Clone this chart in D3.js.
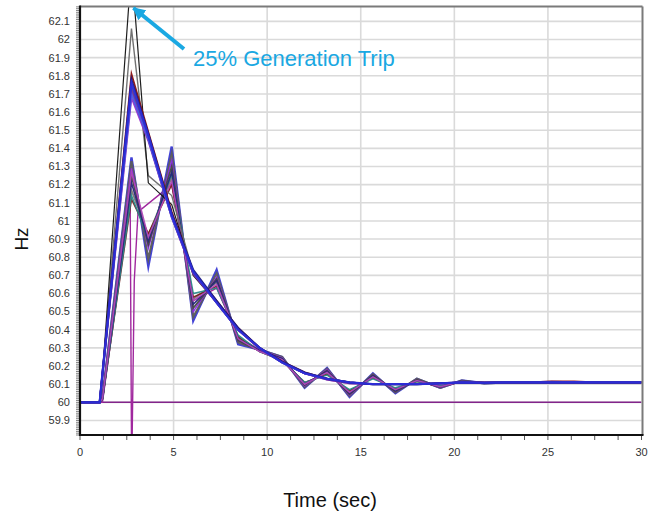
<!DOCTYPE html>
<html>
<head>
<meta charset="utf-8">
<script src="https://cdn.jsdelivr.net/npm/d3@7"></script>
<style>
  html, body { margin: 0; padding: 0; background: #fff; }
  svg { display: block; font-family: "Liberation Sans", Arial, sans-serif; }
</style>
</head>
<body>
<svg id="chart" width="657" height="516"></svg>
<script>
// ---- data ----
const times = [0, 1.05, 1.2, 2.75, 3.65, 4.9, 6.05, 7.3, 8.45, 9.6, 10.8, 12.0, 13.2, 14.4, 15.65, 16.85, 18.0, 19.25, 20.4, 21.6, 22.8, 24.0, 25.2, 26.4, 27.6, 28.8, 30];

const flat60    = [60,60,60,60,60,60,60,60,60,60,60,60,60,60,60,60,60,60,60,60,60,60,60,60,60,60,60];

const lowGray1  = [60,60,60.02,61.33,60.79,61.37,60.47,60.71,60.33,60.29,60.25,60.085,60.185,60.035,60.155,60.055,60.13,60.08,60.12,60.105,60.11,60.11,60.11,60.11,60.11,60.11,60.11];
const lowDark   = [60,60,60.02,61.25,60.87,61.30,60.52,60.68,60.34,60.285,60.24,60.095,60.175,60.045,60.15,60.06,60.125,60.084,60.118,60.106,60.11,60.11,60.11,60.11,60.11,60.11,60.11];
const lowGray2  = [60,60,60.02,61.17,60.92,61.24,60.57,60.66,60.36,60.28,60.235,60.105,60.16,60.06,60.14,60.07,60.118,60.087,60.115,60.107,60.11,60.11,60.11,60.11,60.11,60.11,60.11];
const lowRed    = [60,60,60.02,61.12,60.93,61.20,60.58,60.64,60.36,60.28,60.23,60.11,60.155,60.065,60.135,60.075,60.115,60.088,60.114,60.107,60.11,60.11,60.11,60.11,60.11,60.11,60.11];
const lowTeal   = [60,60,60.02,61.14,60.90,61.26,60.60,60.63,60.37,60.28,60.23,60.11,60.15,60.07,60.13,60.08,60.115,60.09,60.113,60.107,60.11,60.11,60.11,60.11,60.11,60.11,60.11];
const lowNavy   = [60,60,60.02,61.21,60.89,61.27,60.54,60.67,60.35,60.285,60.24,60.10,60.17,60.05,60.145,60.065,60.12,60.085,60.116,60.107,60.11,60.11,60.11,60.11,60.11,60.11,60.11];
const lowMagenta= [60,60,60.02,61.27,60.91,61.22,60.56,60.65,60.35,60.28,60.235,60.10,60.165,60.055,60.14,60.07,60.12,60.086,60.115,60.107,60.11,60.11,60.11,60.11,60.11,60.11,60.11];
const lowViolet = [60,60,60.02,61.29,60.85,61.33,60.50,60.69,60.34,60.29,60.245,60.09,60.18,60.04,60.15,60.06,60.125,60.082,60.118,60.106,60.11,60.11,60.11,60.11,60.11,60.11,60.11];
const lowBlue   = [60,60,60.03,61.35,60.75,61.41,60.45,60.73,60.32,60.29,60.25,60.08,60.19,60.03,60.16,60.05,60.13,60.08,60.12,60.105,60.11,60.11,60.112,60.11,60.11,60.11,60.11];

const spikeGray = [60,60,60.15,62.06,61.25,61.14,60.71,60.55,60.40,60.30,60.22,60.16,60.13,60.11,60.10,60.10,60.10,60.105,60.11,60.108,60.11,60.11,60.11,60.11,60.11,60.11,60.11];
const spikeBlack= [60,60,60.15,62.40,61.21,61.09,60.70,60.55,60.40,60.30,60.22,60.16,60.13,60.11,60.10,60.10,60.10,60.105,60.11,60.108,60.11,60.11,60.11,60.11,60.115,60.112,60.11];

const hiGray    = [60,60,60.15,61.74,61.46,61.03,60.72,60.55,60.40,60.30,60.22,60.16,60.13,60.11,60.10,60.10,60.10,60.105,60.11,60.108,60.11,60.11,60.11,60.11,60.11,60.11,60.11];
const hiRed     = [60,60,60.16,61.81,61.49,61.05,60.72,60.56,60.41,60.30,60.225,60.165,60.13,60.11,60.10,60.10,60.10,60.105,60.11,60.11,60.11,60.11,60.115,60.115,60.11,60.11,60.11];
const hiViolet  = [60,60,60.15,61.68,61.44,61.02,60.71,60.55,60.40,60.295,60.22,60.16,60.125,60.105,60.10,60.10,60.10,60.105,60.11,60.108,60.11,60.11,60.11,60.11,60.11,60.11,60.11];
const hiPurple  = [60,60,60.15,61.72,61.45,61.02,60.71,60.55,60.40,60.295,60.22,60.16,60.125,60.105,60.10,60.10,60.10,60.105,60.11,60.108,60.11,60.11,60.11,60.11,60.11,60.11,60.11];
const hiBlue2   = [60,60,60.16,61.70,61.45,61.02,60.72,60.55,60.40,60.30,60.22,60.16,60.13,60.11,60.10,60.10,60.10,60.105,60.11,60.108,60.11,60.11,60.11,60.11,60.11,60.11,60.11];
const hiNavy    = [60,60,60.16,61.78,61.48,61.04,60.73,60.56,60.41,60.30,60.225,60.165,60.13,60.11,60.10,60.10,60.10,60.105,60.11,60.108,60.11,60.11,60.11,60.11,60.11,60.11,60.11];
const hiBlue    = [60,60,60.16,61.76,61.47,61.03,60.72,60.55,60.40,60.30,60.22,60.16,60.13,60.11,60.10,60.10,60.10,60.105,60.11,60.108,60.11,60.11,60.11,60.112,60.11,60.11,60.11];

// the series with the momentary dip below 60
const dipTimes  = [0, 1.2, 2.68, 2.76, 2.9, 3.1, 4.9, 6.05, 7.3, 8.45, 9.6, 10.8, 12, 13.2, 14.4, 15.65, 16.85, 18, 19.25, 20.4, 21.6, 30];
const dipValues = [60, 60, 61.12, 59.6, 60.67, 61.05, 61.2, 60.56, 60.63, 60.36, 60.29, 60.23, 60.1, 60.17, 60.06, 60.14, 60.07, 60.12, 60.09, 60.115, 60.108, 60.11];

const xTicks = [0, 5, 10, 15, 20, 25, 30];
const yTicks = [59.9,60,60.1,60.2,60.3,60.4,60.5,60.6,60.7,60.8,60.9,61,61.1,61.2,61.3,61.4,61.5,61.6,61.7,61.8,61.9,62,62.1];

const seriesList = [
  {v: flat60,     c: "#7d1a86", w: 1.5},
  {v: lowBlue,    c: "#3838d4", w: 2.4},
  {v: lowGray1,   c: "#5c5c5c", w: 2.2},
  {v: lowViolet,  c: "#8a2be2", w: 1.6},
  {v: lowDark,    c: "#444444", w: 1.8},
  {v: lowGray2,   c: "#777777", w: 1.8},
  {v: lowRed,     c: "#7a1c1c", w: 1.5},
  {v: lowTeal,    c: "#2a8a8a", w: 1.5},
  {v: lowNavy,    c: "#26267a", w: 1.6},
  {v: lowMagenta, c: "#b048b8", w: 1.5},
  {v: spikeGray,  c: "#6a6a6a", w: 1.4},
  {v: spikeBlack, c: "#111111", w: 1.2},
  {v: hiGray,     c: "#606060", w: 2},
  {v: hiRed,      c: "#8b1010", w: 1.8},
  {v: hiViolet,   c: "#9932cc", w: 1.8},
  {v: hiPurple,   c: "#7030a0", w: 1.8},
  {v: hiBlue2,    c: "#4a5ae0", w: 1.8},
  {v: hiNavy,     c: "#1a1a80", w: 2},
  {v: hiBlue,     c: "#2d2dd8", w: 2.2}
];

// ---- layout ----
const svg = d3.select("#chart");
const L = 80, R = 641.5, T = 6.5, B = 435;
const x = d3.scaleLinear().domain([0, 30]).range([L, R]);
const y = d3.scaleLinear().domain([59.82, 62.182]).range([B, T]);

svg.append("rect").attr("width", 657).attr("height", 516).attr("fill", "#fff");

// grid
const grid = svg.append("g");
grid.selectAll("line.h").data(yTicks).join("line")
  .attr("x1", L).attr("x2", R).attr("y1", d => y(d)).attr("y2", d => y(d))
  .attr("stroke", "#dadada").attr("stroke-width", 1.6);
grid.selectAll("line.v").data(xTicks.slice(1, -1)).join("line")
  .attr("y1", T).attr("y2", B).attr("x1", d => x(d)).attr("x2", d => x(d))
  .attr("stroke", "#dadada").attr("stroke-width", 1.6);

// clip
svg.append("clipPath").attr("id", "clip").append("rect")
  .attr("x", L).attr("y", T).attr("width", R - L).attr("height", B - T);

const line = d3.line().x(d => x(d[0])).y(d => y(d[1]));
const plot = svg.append("g").attr("clip-path", "url(#clip)");

seriesList.forEach((s, i) => {
  plot.append("path")
    .datum(times.map((t, k) => [t, s.v[k]]))
    .attr("d", line)
    .attr("fill", "none").attr("stroke", s.c).attr("stroke-width", s.w)
    .attr("stroke-linejoin", "miter").attr("stroke-miterlimit", 6)
    .attr("opacity", 0.95);
  if (i === 0) {
    plot.append("path")
      .datum(dipTimes.map((t, k) => [t, dipValues[k]]))
      .attr("d", line)
      .attr("fill", "none").attr("stroke", "#a0289e").attr("stroke-width", 1.4);
  }
});

// frame: top/right gray
svg.append("line").attr("x1", L).attr("x2", R + 1).attr("y1", T).attr("y2", T)
  .attr("stroke", "#7a7a7a").attr("stroke-width", 2);
svg.append("line").attr("x1", R + 1).attr("x2", R + 1).attr("y1", T).attr("y2", B)
  .attr("stroke", "#7a7a7a").attr("stroke-width", 2);

// y axis
const yAx = svg.append("g");
const minorVals = d3.range(0, 237).map(i => 59.82 + i * 0.01);
yAx.selectAll("line.mn").data(minorVals).join("line")
  .attr("x1", L - 4).attr("x2", L).attr("y1", d => y(d)).attr("y2", d => y(d))
  .attr("stroke", "#777").attr("stroke-width", 0.9);
yAx.append("line").attr("x1", L).attr("x2", L).attr("y1", T - 1).attr("y2", B + 1)
  .attr("stroke", "#111").attr("stroke-width", 2.2);
yAx.selectAll("text").data(yTicks).join("text")
  .attr("x", L - 10).attr("y", d => y(d)).attr("dy", "0.35em")
  .attr("text-anchor", "end").attr("font-size", 11).attr("fill", "#333")
  .text(d => d3.format("~g")(d));

// x axis
const xAx = svg.append("g");
const xMinor = d3.range(0, 25).map(i => i * 1.25);
xAx.selectAll("line.mn").data(xMinor).join("line")
  .attr("x1", d => x(d)).attr("x2", d => x(d)).attr("y1", B).attr("y2", B + 5)
  .attr("stroke", "#555").attr("stroke-width", 1);
xAx.append("line").attr("x1", L - 1).attr("x2", R + 2).attr("y1", B).attr("y2", B)
  .attr("stroke", "#111").attr("stroke-width", 2.2);
xAx.selectAll("text").data(xTicks).join("text")
  .attr("x", d => x(d)).attr("y", B + 21)
  .attr("text-anchor", "middle").attr("font-size", 11).attr("fill", "#333")
  .text(d => d);

// axis titles
svg.append("text").attr("transform", "translate(28,239) rotate(-90)")
  .attr("text-anchor", "middle").attr("font-size", 19).attr("fill", "#111").text("Hz");
svg.append("text").attr("x", 330).attr("y", 507)
  .attr("text-anchor", "middle").attr("font-size", 20).attr("fill", "#111").text("Time (sec)");

// annotation
const blue = "#1aa8e2";
svg.append("defs").append("marker").attr("id", "ah")
  .attr("viewBox", "0 0 10 10").attr("refX", 9).attr("refY", 5)
  .attr("markerWidth", 3.2).attr("markerHeight", 3.2).attr("orient", "auto")
  .append("path").attr("d", "M0,0 L10,5 L0,10 z").attr("fill", blue);
svg.append("line").attr("x1", 184).attr("y1", 49).attr("x2", x(2.75) + 2).attr("y2", 8)
  .attr("stroke", blue).attr("stroke-width", 4).attr("marker-end", "url(#ah)");
svg.append("text").attr("x", 193).attr("y", 66).attr("font-size", 22).attr("fill", blue)
  .text("25% Generation Trip");
</script>
</body>
</html>
